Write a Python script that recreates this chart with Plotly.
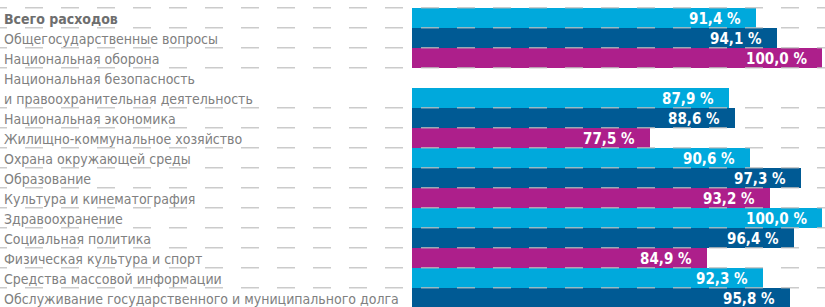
import plotly.graph_objects as go

categories = [
    "Всего расходов",
    "Общегосударственные вопросы",
    "Национальная оборона",
    "Национальная безопасность\nи правоохранительная деятельность",
    "Национальная экономика",
    "Жилищно-коммунальное хозяйство",
    "Охрана окружающей среды",
    "Образование",
    "Культура и кинематография",
    "Здравоохранение",
    "Социальная политика",
    "Физическая культура и спорт",
    "Средства массовой информации",
    "Обслуживание государственного и муниципального долга",
]
values = [91.4, 94.1, 100.0, 87.9, 88.6, 77.5, 90.6, 97.3, 93.2, 100.0, 96.4, 84.9, 92.3, 95.8]
value_labels = ["91,4 %", "94,1 %", "100,0 %", "87,9 %", "88,6 %", "77,5 %", "90,6 %",
                "97,3 %", "93,2 %", "100,0 %", "96,4 %", "84,9 %", "92,3 %", "95,8 %"]

palette = ["#00a9dc", "#005a94", "#ad1f8b"]
W, H = 825, 307
FONT = "DejaVu Sans Condensed, Liberation Sans Narrow, Liberation Sans, sans-serif"

line_rows = []
bar_rows = []
row = 0
for i, c in enumerate(categories):
    for p in c.split("\n"):
        line_rows.append((row, p, i == 0))
        row += 1
    bar_rows.append(row - 1)

fig = go.Figure()
fig.add_trace(go.Bar(
    x=values, y=bar_rows, orientation="h", width=1.0,
    marker=dict(color=[palette[i % 3] for i in range(len(values))], line=dict(width=0)),
    hoverinfo="skip", showlegend=False,
))

annotations = []
for r, t, b in line_rows:
    annotations.append(dict(
        xref="paper", yref="y", x=2 / W, y=r, xanchor="left", yanchor="middle",
        text=f"<b>{t}</b>" if b else t, showarrow=False, yshift=-1,
        font=dict(family=FONT, size=14, color="#6e6e6e" if b else "#808080"),
    ))
for v, lab, r in zip(values, value_labels, bar_rows):
    annotations.append(dict(
        xref="x", yref="y", x=v, y=r, xanchor="right", yanchor="middle",
        text=f"<b>{lab}</b>", showarrow=False, xshift=-13, yshift=-1,
        font=dict(family=FONT, size=15, color="white"),
    ))

sep_rows = [-0.5] + [br + 0.5 for br in bar_rows]
shapes = []
for y in sep_rows:
    shapes.append(dict(
        type="line", xref="paper", yref="y", x0=-11 / W, x1=1, y0=y, y1=y,
        line=dict(color="rgba(190,190,190,0.8)", width=1.5, dash="18px,18px"),
        layer="above",
    ))

top_px = 7.7
row_px = 20.0
y_top = -0.5 - top_px / row_px
y_bot = y_top + H / row_px

fig.update_layout(
    width=W, height=H, margin=dict(l=0, r=0, t=0, b=0),
    paper_bgcolor="white", plot_bgcolor="white",
    xaxis=dict(domain=[412 / W, 1], range=[46.4, 100.39], visible=False, fixedrange=True),
    yaxis=dict(range=[y_bot, y_top], visible=False, fixedrange=True),
    annotations=annotations, shapes=shapes, bargap=0,
)
fig.write_html("out.html", config={"displayModeBar": False},
               post_script="document.body.style.margin='0';document.body.style.overflow='hidden';")
